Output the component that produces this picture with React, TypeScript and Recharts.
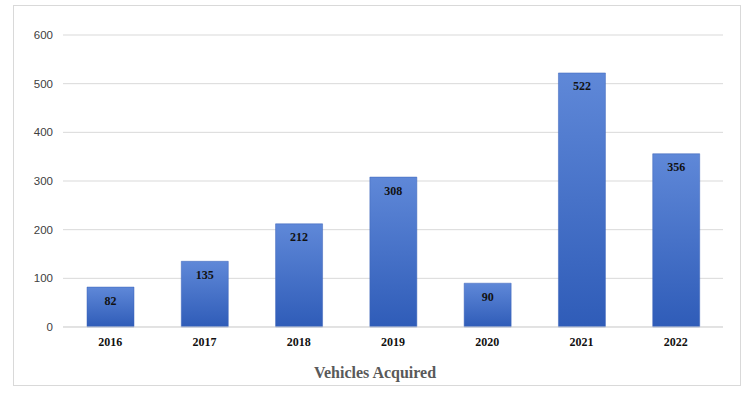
import { BarChart, Bar, XAxis, YAxis, CartesianGrid, LabelList } from 'recharts'

const years = ['2016', '2017', '2018', '2019', '2020', '2021', '2022']
const vehicles = [82, 135, 212, 308, 90, 522, 356]
const yTicks = [0, 100, 200, 300, 400, 500, 600]

const data = years.map((year, i) => ({ year, vehicles: vehicles[i] }))

export default function App() {
  return (
    <div style={{ position: 'absolute', left: 0, top: 0, width: 750, height: 398, background: '#fff' }}>
      <div
        style={{
          position: 'absolute', left: 13, top: 5, width: 728, height: 381,
          border: '1px solid #d9d9d9', boxSizing: 'border-box',
        }}
      />
      <div style={{ position: 'absolute', left: 0, top: 0 }}>
        <BarChart
          width={750}
          height={398}
          data={data}
          margin={{ top: 35, right: 27, bottom: 41, left: 0 }}
          barSize={47}
        >
          <defs>
            <linearGradient id="barFill" x1="0" y1="0" x2="0" y2="1">
              <stop offset="0%" stopColor="#5f88d8" />
              <stop offset="100%" stopColor="#2f5cb8" />
            </linearGradient>
          </defs>
          <CartesianGrid vertical={false} stroke="#d9d9d9" />
          <XAxis
            dataKey="year"
            height={30}
            stroke="#d9d9d9"
            tickLine={false}
            tickSize={0}
            tickMargin={10}
            tick={{ fontSize: 12, fontWeight: 700, fill: '#111', fontFamily: 'Liberation Serif' }}
          />
          <YAxis
            width={63}
            domain={[0, 600]}
            ticks={yTicks}
            axisLine={false}
            tickLine={false}
            tickSize={0}
            tickMargin={10}
            stroke="#404040"
            tick={{ fontSize: 11.5, fill: '#404040', fontFamily: 'Liberation Sans' }}
          />
          <Bar dataKey="vehicles" fill="url(#barFill)" stroke="#3a63b8" strokeWidth={0.5} isAnimationActive={false}>
            <LabelList
              dataKey="vehicles"
              position="insideTop"
              offset={9}
              style={{ fontSize: 12, fontWeight: 700, fill: '#111', fontFamily: 'Liberation Serif' }}
            />
          </Bar>
        </BarChart>
      </div>
      <div
        style={{
          position: 'absolute', left: 0, width: 750, top: 364, textAlign: 'center',
          fontFamily: 'Liberation Serif', fontWeight: 700, fontSize: 16, color: '#595959',
        }}
      >
        Vehicles Acquired
      </div>
    </div>
  )
}
